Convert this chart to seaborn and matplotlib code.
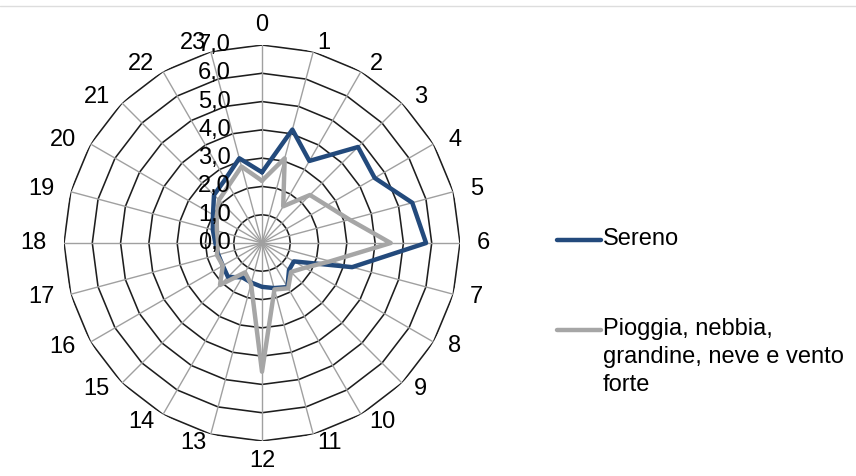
import numpy as np
import pandas as pd
import matplotlib
matplotlib.use("Agg")
import matplotlib.pyplot as plt
from matplotlib.lines import Line2D
from matplotlib.transforms import offset_copy
import seaborn as sns

# ---- data -------------------------------------------------------------
hours = [str(h) for h in range(24)]
sereno = [2.5, 4.15, 3.35, 4.8, 4.6, 5.5, 5.8, 3.3, 1.3, 1.35, 1.8, 1.65,
          1.55, 1.45, 1.4, 1.7, 1.6, 1.6, 1.65, 1.8, 2.0, 2.4, 2.6, 3.1]
pioggia = [2.2, 3.1, 1.5, 2.4, 2.65, 3.2, 4.55, 2.5, 1.75, 1.45, 1.85, 1.7,
           4.55, 1.5, 1.2, 2.1, 1.6, 1.65, 1.55, 1.65, 1.85, 2.15, 2.35, 2.8]
series_names = ["Sereno", "Pioggia, nebbia,\ngrandine, neve e vento\nforte"]
r_ticks = [0, 1, 2, 3, 4, 5, 6, 7]
r_tick_labels = ["0,0", "1,0", "2,0", "3,0", "4,0", "5,0", "6,0", "7,0"]
colors = ["#234A7C", "#A6A6A6"]

# ---- style ------------------------------------------------------------
sns.set_theme(style="white")
plt.rcParams["font.family"] = ["Liberation Sans", "DejaVu Sans"]
FS = 17

W, H = 856, 476
fig = plt.figure(figsize=(W / 100, H / 100), dpi=100)
cx, cy, R = 262, 243, 198
ax = fig.add_axes([(cx - R) / W, (H - cy - R) / H, 2 * R / W, 2 * R / H],
                  projection="polar")
ax.set_theta_zero_location("N")
ax.set_theta_direction(-1)
ax.set_facecolor("white")

n = len(hours)
theta = np.arange(n) * 2 * np.pi / n
theta_closed = np.append(theta, 2 * np.pi)

# polygon grid
for rv in r_ticks[1:]:
    ax.plot(theta_closed, [rv] * (n + 1), color="#1e1e1e", lw=1.15, zorder=1)
for th in theta:
    ax.plot([th, th], [0, r_ticks[-1]], color="#a0a0a0", lw=1.0, zorder=1)

# data
rows = []
for name, vals in zip(series_names, [sereno, pioggia]):
    vc = list(vals) + [vals[0]]
    for i, (t, v) in enumerate(zip(theta_closed, vc)):
        rows.append({"theta": t, "value": v, "series": name, "order": i})
df = pd.DataFrame(rows)
sns.lineplot(data=df, x="theta", y="value", hue="series",
             hue_order=series_names, palette=colors, sort=False,
             estimator=None, lw=3.2, legend=False, ax=ax, zorder=3)

ax.set_ylim(0, r_ticks[-1])
ax.set_xticks([])
ax.set_yticks([])
ax.grid(False)
ax.spines["polar"].set_visible(False)
ax.set_xlabel("")
ax.set_ylabel("")

# category labels: anchored on an ellipse just outside the outer ring
RX, RY = 215, 207
for t, h in zip(theta, hours):
    s, c = np.sin(t), np.cos(t)
    ha = "center" if abs(s) < 1e-6 else ("left" if s > 0 else "right")
    if abs(s) < 1e-6:
        va = "bottom" if c > 0 else "top"
    else:
        va = "center"
    ax.annotate(h, xy=(0, 0), xycoords="data",
                xytext=(s * RX, c * RY), textcoords="offset pixels",
                ha=ha, va=va, fontsize=FS, color="black",
                annotation_clip=False)

# radial labels
trans = offset_copy(ax.transData, fig=fig, x=-31, y=0, units="dots")
for rv, lab in zip(r_ticks, r_tick_labels):
    ax.text(0, rv, lab, transform=trans, ha="right", va="center",
            fontsize=FS, color="black", clip_on=False, zorder=4)

# legend (drawn in figure pixel space)
def fx(x):
    return x / W

def fy(y):
    return 1 - y / H

leg_y = [240, 330]
for name, col, y in zip(series_names, colors, leg_y):
    fig.add_artist(Line2D([fx(557), fx(601)], [fy(y), fy(y)], color=col,
                          lw=3.2, solid_capstyle="round"))
    fig.text(fx(603), fy(y - 12), name, ha="left", va="top", fontsize=FS,
             color="black", linespacing=1.36)

# faint top border
fig.add_artist(Line2D([0, 1], [fy(6), fy(6)], color="#dddddd", lw=1.0))

fig.savefig("out.png", dpi=100, facecolor="white")
